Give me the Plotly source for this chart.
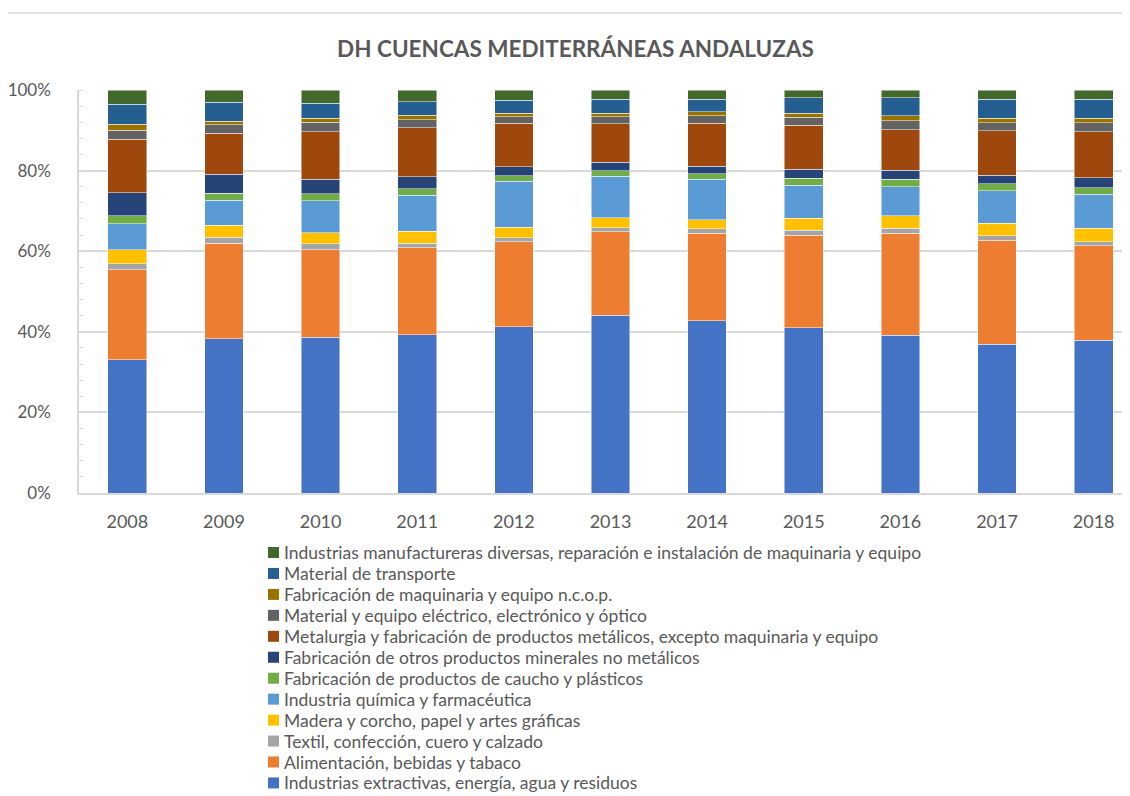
import plotly.graph_objects as go

years = ["2008", "2009", "2010", "2011", "2012", "2013", "2014", "2015", "2016", "2017", "2018"]

extractivas = [33.1, 38.2, 38.7, 39.3, 41.3, 44.1, 42.8, 41.0, 39.1, 36.9, 37.8]
alimentacion = [22.3, 23.6, 21.7, 21.6, 21.0, 20.7, 21.7, 22.95, 25.4, 25.8, 23.35]
textil = [1.5, 1.5, 1.4, 1.1, 1.0, 1.0, 1.1, 1.25, 1.2, 1.1, 1.05]
madera = [3.5, 3.0, 2.8, 2.9, 2.7, 2.5, 2.3, 3.0, 3.05, 3.1, 3.3]
quimica = [6.5, 6.1, 7.95, 9.0, 11.3, 10.3, 10.05, 8.2, 7.25, 8.05, 8.4]
caucho = [1.9, 1.7, 1.65, 1.6, 1.4, 1.4, 1.35, 1.7, 1.85, 1.75, 1.6]
minerales = [5.7, 4.8, 3.7, 3.0, 2.3, 2.1, 1.8, 2.2, 2.25, 2.2, 2.5]
metalurgia = [13.3, 10.1, 11.8, 12.15, 10.7, 9.55, 10.65, 10.95, 10.0, 11.0, 11.4]
electrico = [2.2, 2.15, 2.3, 1.95, 1.7, 1.75, 1.9, 1.95, 2.3, 2.0, 2.15]
maquinaria = [1.6, 0.85, 1.0, 1.1, 0.8, 0.8, 0.95, 1.0, 1.2, 1.1, 1.15]
transporte = [4.9, 4.65, 3.7, 3.4, 3.3, 3.5, 3.15, 3.9, 4.5, 4.7, 4.7]
diversas = [3.55, 3.05, 3.3, 2.9, 2.5, 2.3, 2.3, 1.9, 1.9, 2.3, 2.3]

series_names = [
    "Industrias extractivas, energía, agua y residuos",
    "Alimentación, bebidas y tabaco",
    "Textil, confección, cuero y calzado",
    "Madera y corcho, papel y artes gráficas",
    "Industria química y farmacéutica",
    "Fabricación de productos de caucho y plásticos",
    "Fabricación de otros productos minerales no metálicos",
    "Metalurgia y fabricación de productos metálicos, excepto maquinaria y equipo",
    "Material y equipo eléctrico, electrónico y óptico",
    "Fabricación de maquinaria y equipo n.c.o.p.",
    "Material de transporte",
    "Industrias manufactureras diversas, reparación e instalación de maquinaria y equipo",
]
series_values = [extractivas, alimentacion, textil, madera, quimica, caucho,
                 minerales, metalurgia, electrico, maquinaria, transporte, diversas]
colors = ["#4472C4", "#ED7D31", "#A5A5A5", "#FFC000", "#5B9BD5", "#70AD47",
          "#264478", "#9E480E", "#636363", "#997300", "#255E91", "#43682B"]

ytick_vals = [0, 20, 40, 60, 80, 100]
ytick_text = ["0%", "20%", "40%", "60%", "80%", "100%"]

FONT = "Lato"
TXT = "#595959"
OFF = 8  # page body margin
W, H = 1130 - OFF, 796 - OFF
ML, MR, MT = 79 - OFF, 0, 90 - OFF
MB = H - (493 - OFF)
PW = W - ML - MR
PH = H - MT - MB


def px_x(px):
    """page pixel x -> paper coordinate"""
    return (px - OFF - ML) / PW


def px_y(py):
    """page pixel y -> paper coordinate"""
    return (H - MB - (py - OFF)) / PH


fig = go.Figure()
for name, vals, col in zip(series_names, series_values, colors):
    fig.add_trace(go.Bar(
        x=years, y=vals, name=name,
        marker=dict(color=col, line=dict(color="rgba(255,255,255,0.6)", width=0.8)),
        width=0.4,
    ))

fig.update_layout(
    barmode="stack",
    barnorm="percent",
    width=W, height=H,
    paper_bgcolor="white", plot_bgcolor="white",
    margin=dict(l=ML, r=MR, t=MT, b=MB, autoexpand=False),
    title=dict(text="<b>DH CUENCAS MEDITERRÁNEAS ANDALUZAS</b>",
               x=(575.5 - OFF) / W, xanchor="center", y=1 - (49 - OFF) / H, yanchor="middle",
               font=dict(family=FONT, size=22.5, color=TXT)),
    font=dict(family=FONT, color=TXT),
    showlegend=False,
    xaxis=dict(
        type="category",
        range=[-0.5, 10.5 - 12 / 96.7],
        showgrid=False,
        showline=True, linecolor="#d9d9d9", linewidth=1.5,
        ticks="",
        tickfont=dict(family=FONT, size=18, color=TXT),
        ticklabelstandoff=12,
    ),
    yaxis=dict(
        range=[0, 100],
        tickvals=ytick_vals, ticktext=ytick_text,
        showgrid=True, gridcolor="#d9d9d9", gridwidth=1.5,
        showline=True, linecolor="#d9d9d9", linewidth=1.5,
        zeroline=False,
        ticks="",
        tickfont=dict(family=FONT, size=17, color=TXT),
        ticklabelstandoff=23,
        minor=dict(dtick=4, ticks="inside", ticklen=4, tickcolor="#d9d9d9",
                   tickwidth=1, showgrid=False),
    ),
)

# Legend (reversed order, Excel-style compact rows)
row0, step = 552.5, 20.95
for i, (name, col) in enumerate(zip(reversed(series_names), reversed(colors))):
    cy = row0 + i * step
    fig.add_shape(type="rect", xref="paper", yref="paper",
                  x0=px_x(268), x1=px_x(279), y0=px_y(cy + 5.5), y1=px_y(cy - 5.5),
                  fillcolor=col, line=dict(width=0))
    fig.add_annotation(xref="paper", yref="paper", x=px_x(282), y=px_y(cy),
                       xanchor="left", yanchor="middle", showarrow=False,
                       text=name, font=dict(family=FONT, size=17.5, color=TXT))

# chart-area border (light frame)
fig.add_shape(type="line", xref="paper", yref="paper",
              x0=px_x(7), x1=1.0, y0=px_y(13), y1=px_y(13),
              line=dict(color="#d9d9d9", width=1.5))
fig.add_shape(type="line", xref="paper", yref="paper",
              x0=px_x(7), x1=px_x(7), y0=px_y(800), y1=px_y(13),
              line=dict(color="#d9d9d9", width=1.5))

fig.write_html("out.html")
